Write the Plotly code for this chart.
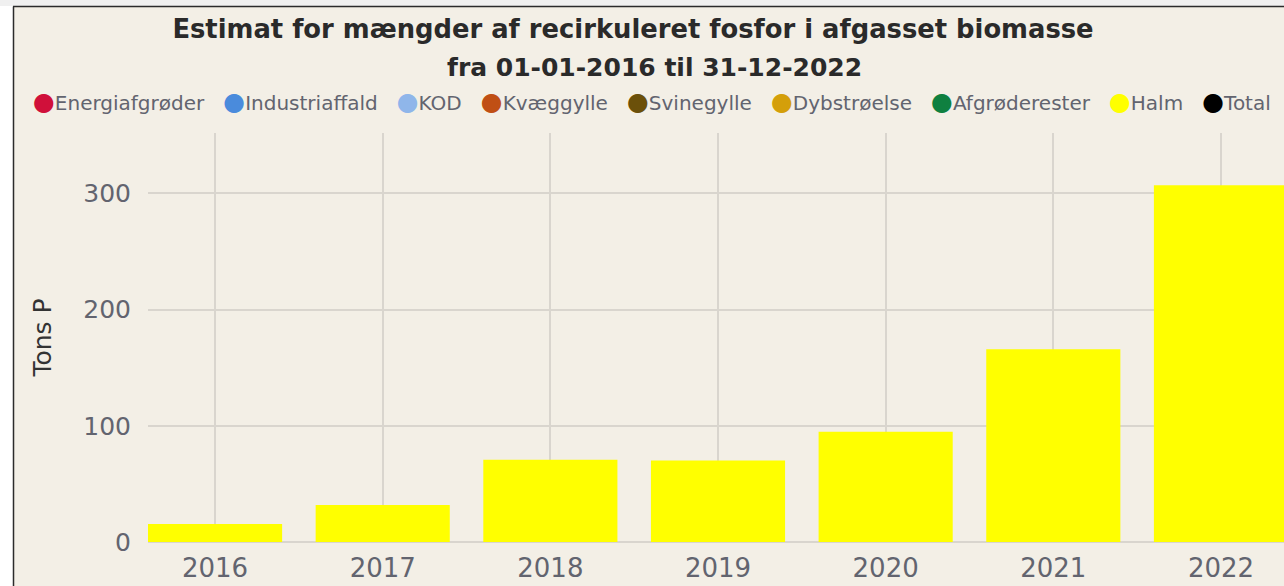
import plotly.graph_objects as go

# data
years = ["2016", "2017", "2018", "2019", "2020", "2021", "2022"]
halm = [15.5, 31.8, 70.7, 70.1, 94.8, 165.9, 307.1]

series_names = ["Energiafgrøder", "Industriaffald", "KOD", "Kvæggylle", "Svinegylle",
                "Dybstrøelse", "Afgrøderester", "Halm", "Total"]
series_colors = ["#d0103a", "#4a8bdc", "#8fb6ea", "#c04f14", "#6b500a",
                 "#d49f0a", "#0f8040", "#ffff00", "#000000"]

title_line1 = "Estimat for mængder af recirkuleret fosfor i afgasset biomasse"
title_line2 = "fra 01-01-2016 til 31-12-2022"
y_title = "Tons P"

BEIGE = "#f3efe6"
GRID = "#d9d5ce"
FONT = "DejaVu Sans"
TEXT = "#62646f"

fig = go.Figure()
fig.add_trace(go.Bar(
    x=years, y=halm, name="Halm",
    marker=dict(color=series_colors[series_names.index("Halm")], line_width=0),
    showlegend=False,
))

# legend row as one line of text with coloured bullets
legend_text = "   ".join(
    f'<span style="color:{c};font-size:25px">●</span>{n}'
    for n, c in zip(series_names, series_colors)
)

fig.update_layout(
    width=1284, height=586,
    margin=dict(l=148, r=0, t=133, b=44),
    paper_bgcolor=BEIGE, plot_bgcolor=BEIGE,
    font=dict(family=FONT, color=TEXT),
    bargap=0.2,
    showlegend=False,
    title=dict(
        text=f"<b>{title_line1}</b>",
        x=633 / 1284, xref="container", xanchor="center",
        y=1 - 29 / 586, yref="container", yanchor="middle",
        font=dict(size=25.8, color="#2a2a2a", family=FONT),
    ),
)
fig.add_annotation(
    text=f"<b>{title_line2}</b>", xref="paper", yref="paper",
    x=(654 - 148) / 1136, y=(542 - 67) / 409, xanchor="center", yanchor="middle",
    showarrow=False, font=dict(size=25, color="#2a2a2a", family=FONT),
)
fig.add_annotation(
    text=legend_text, xref="paper", yref="paper",
    x=(652 - 148) / 1136, y=(542 - 101) / 409, xanchor="center", yanchor="middle",
    showarrow=False, font=dict(size=20, color=TEXT, family=FONT),
)

# page frame: white strip left, grey strip top, dark border
fig.add_shape(type="rect", xref="paper", yref="paper", xsizemode="pixel", xanchor=0,
              x0=-160, x1=-135, y0=-0.5, y1=1.5, fillcolor="#ffffff", line_width=0)
fig.add_shape(type="rect", xref="paper", yref="paper", ysizemode="pixel", yanchor=1,
              x0=-0.2, x1=1.1, y0=127, y1=150, fillcolor="#f0f0f0", line_width=0)
fig.add_shape(type="line", xref="paper", yref="paper", ysizemode="pixel", yanchor=1,
              x0=(13 - 148) / 1136, x1=1.1, y0=126.5, y1=126.5,
              line=dict(color="#2b2b2b", width=1.5))
fig.add_shape(type="line", xref="paper", yref="paper", xsizemode="pixel", xanchor=0,
              x0=-134.5, x1=-134.5, y0=-0.5, y1=(542 - 6.5) / 409,
              line=dict(color="#2b2b2b", width=1.5))

fig.update_xaxes(
    range=[-0.4, 6.376], showgrid=True, gridcolor=GRID, gridwidth=1.5,
    ticks="", tickfont=dict(size=26, color=TEXT), ticklabelstandoff=8,
)
fig.update_yaxes(
    range=[0, 352], tick0=0, dtick=100, showgrid=True, gridcolor=GRID, gridwidth=1.5,
    zeroline=True, zerolinecolor=GRID, zerolinewidth=1.5,
    ticks="", tickfont=dict(size=25, color=TEXT), ticklabelstandoff=16,
    title=dict(text=y_title, font=dict(size=25, color="#333333"), standoff=24),
)

# drop the default body margin so the figure sits at the window corner
fig.write_html("out.html", config={"displayModeBar": False},
               post_script="document.body.style.margin = '0';")
